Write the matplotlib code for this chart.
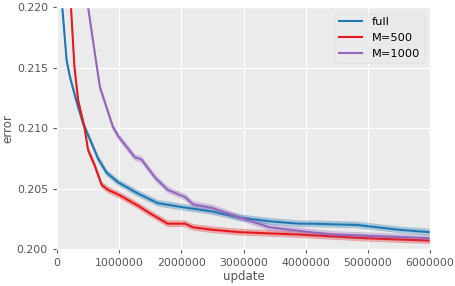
import matplotlib
matplotlib.use("Agg")
import matplotlib.pyplot as plt
import numpy as np

plt.style.use("ggplot")

# updates (x) and mean error for each run
full_x = [0.05e6, 0.085e6, 0.155e6, 0.21e6, 0.32e6, 0.42e6, 0.66e6, 0.8e6, 0.99e6, 1.3e6,
          1.62e6, 1.98e6, 2.5e6, 2.94e6, 3.42e6, 3.9e6, 4.07e6, 4.82e6, 5.5e6, 6.0e6]
full_y = [0.226, 0.220, 0.2156, 0.2142, 0.2121, 0.2104, 0.2075, 0.2063, 0.2055, 0.2046,
          0.2038, 0.2035, 0.2031, 0.2026, 0.2023, 0.2021, 0.2021, 0.2020, 0.2016, 0.2014]

m500_x = [0.15e6, 0.225e6, 0.28e6, 0.34e6, 0.44e6, 0.5e6, 0.6e6, 0.72e6, 0.82e6, 0.99e6,
          1.3e6, 1.45e6, 1.78e6, 2.06e6, 2.19e6, 2.5e6, 2.94e6, 3.42e6, 3.9e6, 4.98e6, 6.0e6]
m500_y = [0.228, 0.220, 0.2151, 0.2123, 0.2101, 0.2082, 0.2070, 0.2053, 0.2049, 0.2045,
          0.2036, 0.2031, 0.2021, 0.2021, 0.2018, 0.2016, 0.2014, 0.2013, 0.2012, 0.2009, 0.2007]

m1000_x = [0.4e6, 0.5e6, 0.64e6, 0.69e6, 0.9e6, 0.99e6, 1.25e6, 1.36e6, 1.58e6, 1.78e6,
           2.06e6, 2.19e6, 2.5e6, 2.94e6, 3.42e6, 4.07e6, 4.44e6, 5.0e6, 6.0e6]
m1000_y = [0.226, 0.220, 0.2151, 0.2134, 0.2101, 0.2093, 0.2076, 0.2074, 0.2059, 0.2049,
           0.2043, 0.2037, 0.2034, 0.2026, 0.2018, 0.2014, 0.2012, 0.2011, 0.2009]

series = [
    ("full", full_x, full_y, "#1f77b4"),
    ("M=500", m500_x, m500_y, "#e41a1c"),
    ("M=1000", m1000_x, m1000_y, "#9467bd"),
]
band = 0.00028

fig = plt.figure(figsize=(4.56, 2.86), dpi=100)
ax = fig.add_axes([0.125, 0.129, 0.818, 0.846])
ax.set_facecolor("#ebebeb")

for name, xs, ys, col in series:
    xs = np.array(xs)
    ys = np.array(ys)
    ax.fill_between(xs, ys - band, ys + band, color=col, alpha=0.22, lw=0)
    for k in [-0.8, -0.4, 0.4, 0.8]:
        ax.plot(xs, ys + band * k, color=col, lw=0.6, alpha=0.2)
    ax.plot(xs, ys, color=col, lw=1.5, label=name)

ax.set_xlim(0, 6e6)
ax.set_ylim(0.200, 0.220)
ax.set_xticks(np.arange(0, 6000001, 1000000))
ax.set_xticklabels([str(int(v)) for v in np.arange(0, 6000001, 1000000)])
ax.set_yticks([0.200, 0.205, 0.210, 0.215, 0.220])
ax.set_yticklabels(["0.200", "0.205", "0.210", "0.215", "0.220"])
ax.tick_params(labelsize=7.8, colors="#555555", length=3)
ax.set_xlabel("update", fontsize=8.5, color="#555555", labelpad=1)
ax.set_ylabel("error", fontsize=8.5, color="#555555", labelpad=2)
ax.legend(loc="upper right", fontsize=8.2, facecolor="#eaeaea", edgecolor="#dcdcdc")

fig.savefig("out.png", dpi=100)
